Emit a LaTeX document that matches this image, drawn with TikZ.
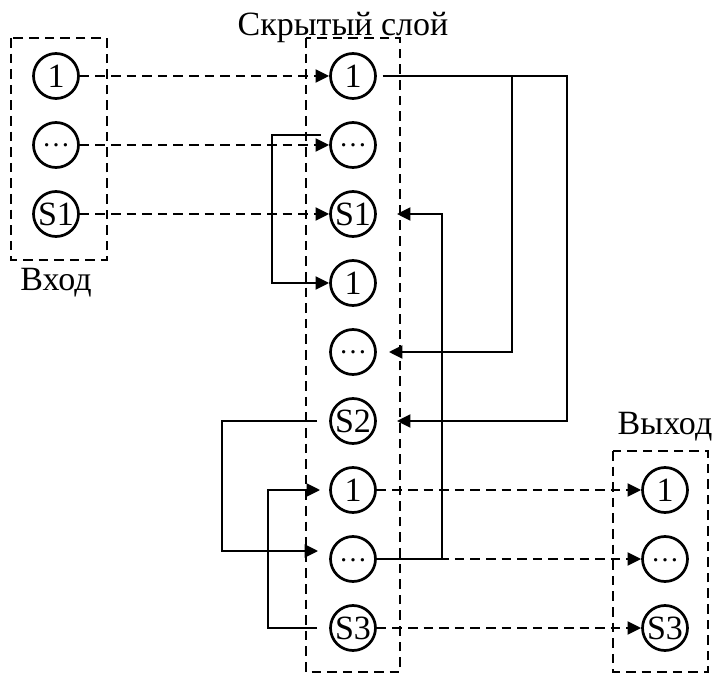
\documentclass[tikz,border=0pt]{standalone}
\usepackage{fontspec}
\setmainfont{Liberation Serif}
\usetikzlibrary{arrows.meta,positioning,calc}

\begin{document}
\begin{tikzpicture}[
    node distance=34.5pt and 148.5pt, on grid,
    neuron/.style={circle, draw=black, line width=1.35pt, minimum size=22.5pt, inner sep=0pt, text height=11.5pt, text depth=0pt, font=\fontsize{17}{18}\selectfont},
    dots/.style={neuron, text height=2pt, font=\fontsize{14}{15}\selectfont},
    group/.style={draw=black, line width=1.3pt, dash pattern=on 4.8pt off 3pt},
    lbl/.style={font=\fontsize{17}{18}\selectfont, inner sep=0pt},
    arrow/.style={-{Triangle[length=6.8pt, width=6.4pt]}, line width=1.3pt},
    dasharrow/.style={arrow, dash pattern=on 4.8pt off 3pt}
]
\useasboundingbox (0,0) rectangle (356pt,-336.5pt);
% input layer
\node[neuron] (in1) at (28pt,-38pt) {1};
\node[dots, below=of in1] (indots) {\ldots};
\node[neuron, below=of indots] (ins1) {S1};
\node[lbl, below=of ins1] (inlbl) {Вход};
% hidden layer
\node[neuron, right=of in1] (h1) {1};
\node[dots, below=of h1] (h2) {\ldots};
\node[neuron, below=of h2] (h3) {S1};
\node[neuron, below=of h3] (h4) {1};
\node[dots, below=of h4] (h5) {\ldots};
\node[neuron, below=of h5] (h6) {S2};
\node[neuron, below=of h6] (h7) {1};
\node[dots, below=of h7] (h8) {\ldots};
\node[neuron, below=of h8] (h9) {S3};
\node[lbl, anchor=base] (hidlbl) at ($(h1)+(-5pt,20pt)$) {Скрытый слой};
% output layer
\node[neuron, right=156pt of h7] (out1) {1};
\node[dots, below=of out1] (outdots) {\ldots};
\node[neuron, below=of outdots] (outs3) {S3};
\node[lbl, anchor=base] (outlbl) at ($(out1)+(0,27.5pt)$) {Выход};

\draw[group] ($(in1)+(-22.5pt,19pt)$) rectangle ($(ins1)+(25.5pt,-23pt)$);
\draw[group] ($(h1)+(-23.5pt,19pt)$) rectangle ($(h9)+(23.5pt,-22pt)$);
\draw[group] ($(out1)+(-26pt,19.5pt)$) rectangle ($(outs3)+(21.5pt,-22pt)$);

\foreach \a/\b in {in1/h1, indots/h2, ins1/h3, h7/out1, h8/outdots, h9/outs3}
    \draw[dasharrow] (\a) -- (\b);

% feedback links
\coordinate (turnA) at (256pt,0);
\coordinate (turnB) at (283.5pt,0);
\coordinate (turnC) at (221pt,0);
\coordinate (turnD) at (136pt,0);
\coordinate (turnE) at (111pt,0);
\coordinate (turnF) at (134pt,0);
\coordinate (h2out) at ($(h2.west)+(-4pt,5pt)$);
\coordinate (h6out) at ($(h6.west)+(-6pt,0)$);
\coordinate (h8in) at ($(h8.west)+(-5.5pt,4pt)$);
\coordinate (h9out) at ($(h9.west)+(-6pt,0)$);

\draw[arrow, shorten <=3pt, shorten >=6pt] (h1.east) -- (h1.east -| turnA) |- (h5);
\draw[arrow, shorten <=3pt, shorten >=10pt] (h1.east) -- (h1.east -| turnB) |- (h6);
\draw[arrow, shorten >=10pt] (h8.east) -- (h8.east -| turnC) |- (h3);
\draw[arrow] (h2out) -- (h2out -| turnD) |- (h4);
\draw[arrow] (h6out) -- (h6out -| turnE) |- (h8in);
\draw[arrow, shorten >=4.5pt] (h9out) -- (h9out -| turnF) |- (h7);
\end{tikzpicture}
\end{document}
